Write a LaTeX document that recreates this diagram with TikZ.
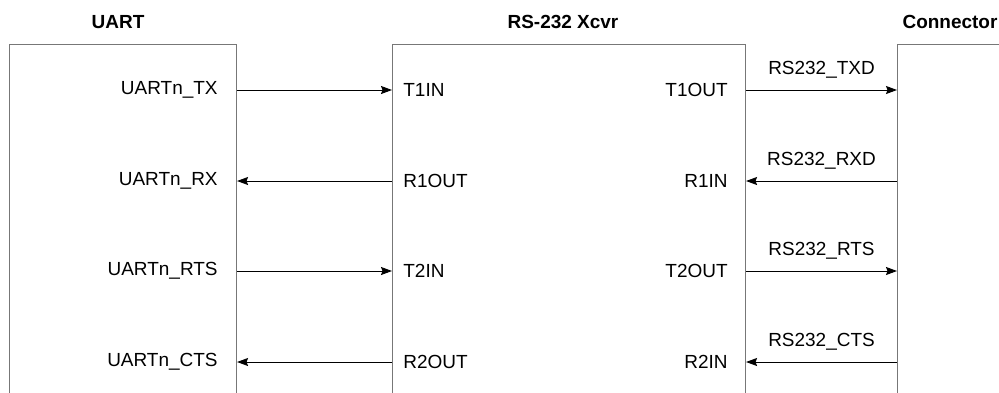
\documentclass[tikz,border=0pt]{standalone}
\usepackage{fontspec}
\setmainfont{Liberation Sans}
\usepackage{tikz}
\usetikzlibrary{arrows.meta}
\definecolor{boxgray}{HTML}{777777}

\begin{document}
\begin{tikzpicture}[
  blk/.style={rectangle,draw=boxgray,line width=0.6pt,anchor=north west,
    minimum height=8cm,inner sep=0pt},
  title/.style={font=\fontsize{10.8}{13}\selectfont\bfseries},
  sig/.style={font=\fontsize{10.8}{13}\selectfont,inner sep=0pt},
  arr/.style={-{Stealth[length=0.22cm,width=0.16cm,inset=0.03cm]},line width=0.5pt}]

  \clip (0,0) rectangle (19.98,7.84);

  % blocks
  \node[blk,minimum width=4.54cm] (uart) at (0.18,6.97) {};
  \node[blk,minimum width=7.06cm] (xcvr) at (7.84,6.97) {};
  \node[blk,minimum width=3cm] (con) at (17.94,6.97) {};

  \node[title] (tuart) at (2.36,7.40) {UART};
  \node[title] (txcvr) at (11.26,7.40) {RS-232 Xcvr};
  \node[title] (tcon) at (19.0,7.40) {Connector};

  % UART pins
  \node[sig,anchor=east] (utx) at (4.36,6.04) {UARTn\_TX};
  \node[sig,anchor=east] (urx) at (4.36,4.22) {UARTn\_RX};
  \node[sig,anchor=east] (urts) at (4.36,2.42) {UARTn\_RTS};
  \node[sig,anchor=east] (ucts) at (4.36,0.60) {UARTn\_CTS};

  % transceiver pins
  \node[sig,anchor=west] (t1in) at (8.06,6.04) {T1IN};
  \node[sig,anchor=west] (r1out) at (8.06,4.22) {R1OUT};
  \node[sig,anchor=west] (t2in) at (8.06,2.42) {T2IN};
  \node[sig,anchor=west] (r2out) at (8.06,0.60) {R2OUT};
  \node[sig,anchor=east] (t1out) at (14.56,6.04) {T1OUT};
  \node[sig,anchor=east] (r1in) at (14.56,4.22) {R1IN};
  \node[sig,anchor=east] (t2out) at (14.56,2.42) {T2OUT};
  \node[sig,anchor=east] (r2in) at (14.56,0.60) {R2IN};

  \draw[arr] (utx -| uart.east) -- (t1in -| xcvr.west);
  \draw[arr] (r1out -| xcvr.west) -- (urx -| uart.east);
  \draw[arr] (urts -| uart.east) -- (t2in -| xcvr.west);
  \draw[arr] (r2out -| xcvr.west) -- (ucts -| uart.east);

  \draw[arr] (t1out -| xcvr.east) -- (t1out -| con.west)
    node[sig,midway,yshift=0.41cm] (ntxd) {RS232\_TXD};
  \draw[arr] (r1in -| con.west) -- (r1in -| xcvr.east)
    node[sig,midway,yshift=0.41cm] (nrxd) {RS232\_RXD};
  \draw[arr] (t2out -| xcvr.east) -- (t2out -| con.west)
    node[sig,midway,yshift=0.41cm] (nrts) {RS232\_RTS};
  \draw[arr] (r2in -| con.west) -- (r2in -| xcvr.east)
    node[sig,midway,yshift=0.41cm] (ncts) {RS232\_CTS};
\end{tikzpicture}
\end{document}
